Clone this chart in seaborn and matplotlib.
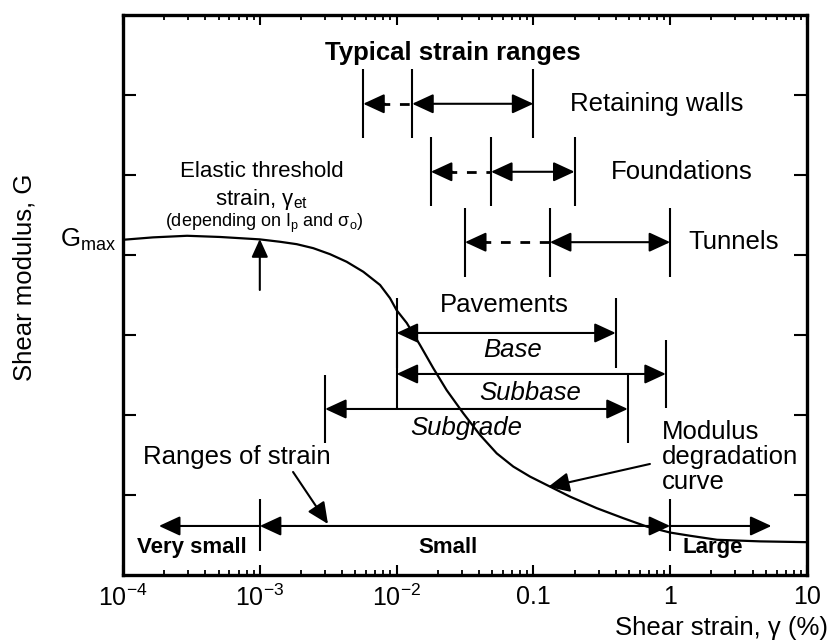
import matplotlib
matplotlib.use("Agg")
import matplotlib.pyplot as plt
import seaborn as sns
import pandas as pd

# ---- data ---------------------------------------------------------------
# Modulus degradation curve: shear strain (%) vs. relative shear modulus level
curve_strain = [1e-4, 1.656e-4, 2.94e-4, 5.12e-4, 1.0e-3, 1.406e-3, 1.862e-3,
                2.46e-3, 3.26e-3, 4.315e-3, 5.71e-3, 7.57e-3, 8.95e-3, 0.0100,
                0.01186, 0.01483, 0.01854, 0.02323, 0.03076, 0.04074, 0.05395,
                0.07129, 0.09441, 0.1321, 0.1849, 0.2904, 0.4539, 0.6745, 1.0,
                1.40, 2.2, 4.53, 10.0]
curve_modulus = [4.19, 4.22, 4.24, 4.225, 4.195, 4.165, 4.135,
                 4.085, 4.01, 3.915, 3.79, 3.625, 3.46, 3.31,
                 3.15, 2.875, 2.585, 2.31, 2.02, 1.75, 1.52,
                 1.355, 1.23, 1.105, 0.98, 0.835, 0.71, 0.605, 0.53,
                 0.49, 0.44, 0.42, 0.41]

# Typical strain ranges (dashed start, solid start, end) for each structure
structure_names = ["Retaining walls", "Foundations", "Tunnels"]
structure_dash_start = [0.0057, 0.0178, 0.0316]
structure_solid_start = [0.013, 0.049, 0.132]
structure_end = [0.1, 0.2, 1.0]
structure_row = [5.89, 5.04, 4.16]

# Pavement layers
layer_names = ["Base", "Subbase", "Subgrade"]
layer_start = [0.01, 0.01, 0.003]
layer_end = [0.4, 0.93, 0.49]
layer_row = [3.025, 2.5125, 2.075]

# Ranges of strain
range_names = ["Very small", "Small", "Large"]
range_edges = [1.83e-4, 1e-3, 1.0, 5.5]
range_row = 0.6125

x_ticks = [1e-4, 1e-3, 1e-2, 0.1, 1, 10]
x_tick_labels = [r"$\mathrm{10^{-4}}$", r"$\mathrm{10^{-3}}$", r"$\mathrm{10^{-2}}$",
                 "0.1", "1", "10"]

# ---- style --------------------------------------------------------------
sns.set_style("white")
plt.rcParams["font.family"] = ["Liberation Sans", "DejaVu Sans"]
plt.rcParams["mathtext.fontset"] = "custom"
plt.rcParams["mathtext.rm"] = "Liberation Sans"
plt.rcParams["mathtext.it"] = "Liberation Sans:italic"
plt.rcParams["mathtext.bf"] = "Liberation Sans:bold"
plt.rcParams["text.color"] = "black"
plt.rcParams["axes.labelcolor"] = "black"
plt.rcParams["xtick.color"] = "black"
plt.rcParams["ytick.color"] = "black"

FS = 18.5
LW = 1.5
HEAD = "head_length=13,head_width=6"

fig = plt.figure(figsize=(8.34, 6.43), dpi=100)
ax = fig.add_axes([0.1475, 0.1058, 0.8201, 0.8709])

# ---- modulus degradation curve ----------------------------------------
df = pd.DataFrame({"strain": curve_strain, "G": curve_modulus})
sns.lineplot(data=df, x="strain", y="G", ax=ax, color="black", lw=1.6,
             estimator=None, sort=False)

ax.set_xscale("log")
ax.set_xlim(1e-4, 10)
ax.set_ylim(0, 7)
ax.set_xlabel("")
ax.set_ylabel("")


def bar_tick(x, y0, y1):
    ax.vlines(x, y0, y1, color="black", lw=LW)


def arrow(x_from, y_from, x_to, y_to, style="-|>", head=HEAD):
    ax.annotate("", xy=(x_to, y_to), xytext=(x_from, y_from),
                arrowprops=dict(arrowstyle=f"{style},{head}", color="black",
                                lw=LW, shrinkA=0, shrinkB=0, mutation_scale=1))


# ---- typical strain ranges --------------------------------------------
ax.text(0.0258, 6.525, "Typical strain ranges", fontsize=FS, fontweight="bold",
        ha="center", va="center")
for name, xd, xs, xe, y in zip(structure_names, structure_dash_start,
                               structure_solid_start, structure_end, structure_row):
    for xv in (xd, xs, xe):
        bar_tick(xv, y - 0.43, y + 0.43)
    ax.plot([xd * 10 ** 0.12, xs], [y, y], color="black", lw=2.0,
            ls=(0, (3.5, 3.5)))
    arrow(xd * 10 ** 0.16, y, xd, y)
    arrow(xs, y, xe, y, style="<|-|>")
    ax.text(xe * 1.85 if name != "Tunnels" else xe * 1.35, y, name, fontsize=FS,
            ha="left", va="center")

# ---- pavements ----------------------------------------------------------
ax.text(0.061, 3.375, "Pavements", fontsize=FS, ha="center", va="center")
layer_tick_half = [0.44, 0.43, 0.43]
for name, xs, xe, y, h in zip(layer_names, layer_start, layer_end, layer_row,
                              layer_tick_half):
    bar_tick(xs, y - h, y + h)
    bar_tick(xe, y - h, y + h)
    arrow(xs, y, xe, y, style="<|-|>")
label_pos = [(0.0703, 2.8125), (0.0944, 2.275), (0.0321, 1.8375)]
for name, (lx, ly) in zip(layer_names, label_pos):
    ax.text(lx, ly, name, fontsize=FS, style="italic", ha="center", va="center")

# ---- ranges of strain -------------------------------------------------
bar_tick(range_edges[1], 0.30, 0.95)
bar_tick(range_edges[2], 0.30, 0.95)
arrow(range_edges[1], range_row, range_edges[0], range_row)
arrow(range_edges[1], range_row, range_edges[2], range_row, style="<|-|>")
arrow(range_edges[2], range_row, range_edges[3], range_row)
range_label_x = [3.17e-4, 0.0238, 2.06]
for name, lx in zip(range_names, range_label_x):
    ax.text(lx, 0.3375, name, fontsize=16, fontweight="bold",
            ha="center", va="center")
ax.text(6.8e-4, 1.475, "Ranges of strain", fontsize=FS, ha="center", va="center")
arrow(1.75e-3, 1.2875, 3.15e-3, 0.6375)

# ---- modulus degradation curve label --------------------------------
ax.text(0.871, 1.475, "Modulus\ndegradation\ncurve", fontsize=FS, ha="left",
        va="center", linespacing=1.05)
arrow(0.711, 1.3875, 0.128, 1.10)

# ---- elastic threshold strain ----------------------------------------
ax.text(1.03e-3, 5.0375, "Elastic threshold", fontsize=16, ha="center", va="center")
ax.text(1.03e-3, 4.69, r"strain, $\mathrm{\gamma_{et}}$", fontsize=16,
        ha="center", va="center")
ax.text(1.07e-3, 4.40, r"(depending on I$_{\mathrm{p}}$ and $\mathrm{\sigma_{o}}$)",
        fontsize=13, ha="center", va="center")
arrow(1e-3, 3.5625, 1e-3, 4.20, head="head_length=11,head_width=5")

# ---- axes decoration --------------------------------------------------
ax.set_xticks(x_ticks)
ax.set_xticklabels(x_tick_labels)
ax.set_yticks([1, 2, 3, 4, 5, 6])
ax.set_yticklabels([])
ax.tick_params(axis="x", which="major", direction="in", length=7, width=1.5,
               top=True, bottom=True, labelsize=18, pad=7, colors="black")
ax.tick_params(axis="x", which="minor", direction="in", length=3.8, width=1.3,
               top=True, bottom=True)
ax.tick_params(axis="y", which="major", direction="in", length=9.5, width=1.5,
               left=True, right=True, colors="black")
for s in ax.spines.values():
    s.set_linewidth(2.4)
    s.set_color("black")

fig.text(60 / 834, 1 - 240 / 643, r"$\mathrm{G_{max}}$", fontsize=FS,
         ha="left", va="center")
fig.text(828 / 834, 1 - 628 / 643, "Shear strain, γ (%)", fontsize=FS,
         ha="right", va="center")
fig.text(25 / 834, 1 - 277 / 643, "Shear modulus, G", fontsize=FS, rotation=90,
         ha="center", va="center")

fig.savefig("out.png", dpi=100, facecolor="white")
